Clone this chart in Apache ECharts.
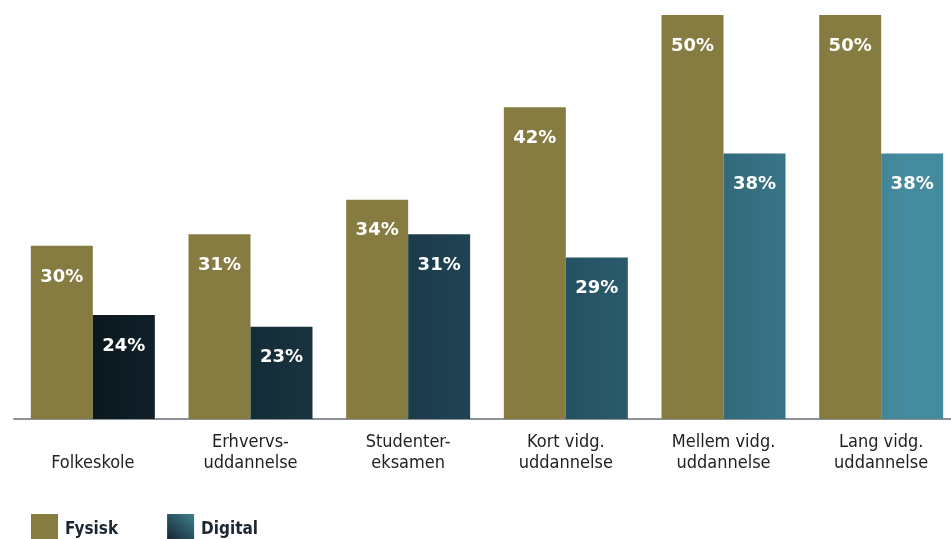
<!DOCTYPE html>
<html>
<head>
<meta charset="utf-8">
<script src="https://cdn.jsdelivr.net/npm/echarts@6/dist/echarts.min.js"></script>
<style>
  html, body { margin: 0; padding: 0; background: #fff; }
  #chart { width: 951px; height: 539px; }
</style>
</head>
<body>
<div id="chart"></div>
<script>
// uddannelsesniveau
const categories = ['Folkeskole', 'Erhvervs-\nuddannelse', 'Studenter-\neksamen', 'Kort vidg.\nuddannelse', 'Mellem vidg.\nuddannelse', 'Lang vidg.\nuddannelse']
const fysisk = [30, 31, 34, 42, 50, 50]
const digital = [24, 23, 31, 29, 38, 38]

const olive = '#867c42'
// digital-søjlerne bliver lysere fra venstre mod højre
const digitalGradient = {
  type: 'linear', x: 0, y: 0, x2: 951, y2: 0, global: true,
  colorStops: [
    {offset: 0.1, color: '#0c1820'},
    {offset: 0.27, color: '#152d39'},
    {offset: 0.44, color: '#1c3c4b'},
    {offset: 0.6, color: '#255262'},
    {offset: 0.77, color: '#336b7d'},
    {offset: 0.95, color: '#448b9d'}
  ]
}
const legendGradient = {
  type: 'linear', x: 0, y: 1, x2: 1, y2: 0,
  colorStops: [
    {offset: 0, color: '#0f1c25'},
    {offset: 1, color: '#3f7f90'}
  ]
}

const chart = echarts.init(document.getElementById('chart'))

const valueLabel = {
  show: true,
  position: 'insideTop',
  distance: 22,
  color: '#fff',
  fontFamily: 'DejaVu Sans',
  fontWeight: 'bold',
  fontSize: 18,
  formatter: p => p.value + '%'
}

chart.setOption({
  animation: false,
  grid: {
    left: 14,
    top: 15,
    width: 946,
    bottom: 120,
    outerBoundsMode: 'none'
  },
  legend: {
    left: 31,
    top: 514,
    padding: 0,
    itemWidth: 27,
    itemHeight: 32,
    itemGap: 49,
    icon: 'rect',
    textStyle: {
      color: '#1b2733',
      fontFamily: 'DejaVu Sans Condensed',
      fontWeight: 'bold',
      fontSize: 17,
      padding: [0, 0, 0, 2]
    },
    data: [
      {name: 'Fysisk', itemStyle: {color: olive}},
      {name: 'Digital', itemStyle: {color: legendGradient}}
    ]
  },
  xAxis: {
    type: 'category',
    data: categories,
    axisLine: {lineStyle: {color: '#8c9297', width: 2}},
    axisTick: {show: false},
    axisLabel: {
      color: '#222',
      fontFamily: 'DejaVu Sans Condensed',
      fontSize: 18,
      lineHeight: 21,
      verticalAlign: 'bottom',
      margin: 55
    }
  },
  yAxis: {
    type: 'value',
    min: 15,
    max: 50,
    show: false,
    splitLine: {show: false}
  },
  series: [
    {
      name: 'Fysisk',
      type: 'bar',
      data: fysisk,
      barWidth: 62,
      barGap: 0,
      itemStyle: {color: olive},
      label: valueLabel
    },
    {
      name: 'Digital',
      type: 'bar',
      data: digital,
      barWidth: 62,
      itemStyle: {color: digitalGradient},
      label: valueLabel
    }
  ]
})
</script>
</body>
</html>
